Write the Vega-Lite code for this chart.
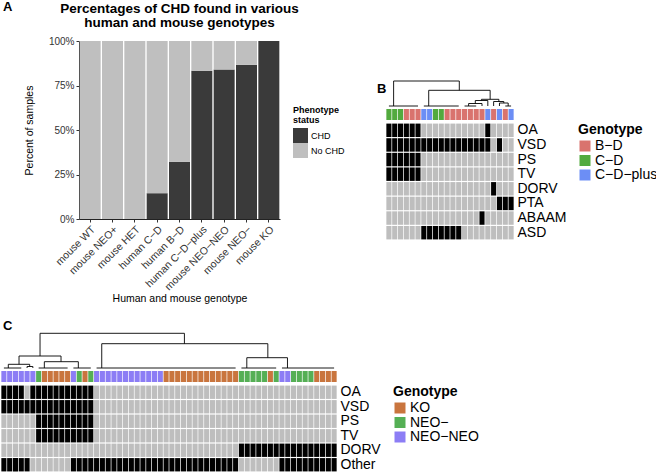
{
  "$schema": "https://vega.github.io/schema/vega-lite/v6.json",
  "padding": {"left": 1, "top": 0, "right": 0, "bottom": 0},
  "background": "white",
  "config": {
    "font": "Liberation Sans",
    "view": {"stroke": null},
    "title": {"color": "#000"},
    "axis": {"labelColor": "#333", "titleColor": "#000", "domainColor": "#222", "tickColor": "#333", "grid": false}
  },
  "spacing": 15,
  "resolve": {"scale": {"color": "independent", "x": "independent", "y": "independent"}},
  "vconcat": [
    {
      "title": {"text": "A", "anchor": "start", "fontSize": 13, "fontWeight": "bold", "offset": -12, "dx": 2},
      "spacing": 22,
      "resolve": {"scale": {"color": "independent", "x": "independent", "y": "independent"}},
      "hconcat": [
        {
          "width": 1,
          "height": 1,
          "data": {"values": [{"z": 0}]},
          "mark": {"type": "point", "size": 0, "opacity": 0},
          "encoding": {}
        },
        {
          "spacing": 32,
          "resolve": {"scale": {"color": "independent", "x": "independent", "y": "independent"}},
          "hconcat": [
            {
              "width": 201,
              "height": 178,
              "title": {"text": ["Percentages of CHD found in various", "human and mouse genotypes"], "fontSize": 13.5, "fontWeight": "bold", "anchor": "middle", "lineHeight": 14, "offset": 7},
              "data": {"values": [
                {"g": "mouse WT", "s": "CHD", "o": 0, "p": 0}, {"g": "mouse WT", "s": "No CHD", "o": 1, "p": 100},
                {"g": "mouse NEO+", "s": "CHD", "o": 0, "p": 0}, {"g": "mouse NEO+", "s": "No CHD", "o": 1, "p": 100},
                {"g": "mouse HET", "s": "CHD", "o": 0, "p": 0}, {"g": "mouse HET", "s": "No CHD", "o": 1, "p": 100},
                {"g": "human C−D", "s": "CHD", "o": 0, "p": 14.5}, {"g": "human C−D", "s": "No CHD", "o": 1, "p": 85.5},
                {"g": "human B−D", "s": "CHD", "o": 0, "p": 32.2}, {"g": "human B−D", "s": "No CHD", "o": 1, "p": 67.8},
                {"g": "human C−D−plus", "s": "CHD", "o": 0, "p": 83.3}, {"g": "human C−D−plus", "s": "No CHD", "o": 1, "p": 16.7},
                {"g": "mouse NEO−NEO", "s": "CHD", "o": 0, "p": 84}, {"g": "mouse NEO−NEO", "s": "No CHD", "o": 1, "p": 16},
                {"g": "mouse NEO−", "s": "CHD", "o": 0, "p": 86.7}, {"g": "mouse NEO−", "s": "No CHD", "o": 1, "p": 13.3},
                {"g": "mouse KO", "s": "CHD", "o": 0, "p": 100}, {"g": "mouse KO", "s": "No CHD", "o": 1, "p": 0}
              ]},
              "mark": {"type": "bar"},
              "encoding": {
                "x": {"field": "g", "type": "nominal",
                  "sort": ["mouse WT", "mouse NEO+", "mouse HET", "human C−D", "human B−D", "human C−D−plus", "mouse NEO−NEO", "mouse NEO−", "mouse KO"],
                  "scale": {"paddingInner": 0.06, "paddingOuter": 0.03},
                  "axis": {"title": "Human and mouse genotype", "labelAngle": -45, "labelFontSize": 10.5, "titleFontSize": 10.5, "titleFontWeight": "normal", "tickSize": 3, "labelPadding": 2, "titlePadding": 1}},
                "y": {"field": "p", "type": "quantitative", "stack": "zero",
                  "scale": {"domain": [0, 100], "nice": false},
                  "axis": {"title": "Percent of samples", "values": [0, 25, 50, 75, 100], "labelExpr": "datum.value + '%'", "labelFontSize": 10, "titleFontSize": 10.5, "titleFontWeight": "normal", "tickSize": 3, "labelPadding": 2, "titlePadding": 14}},
                "order": {"field": "o", "type": "quantitative"},
                "color": {"field": "s", "type": "nominal",
                  "scale": {"domain": ["CHD", "No CHD"], "range": ["#3a3a3a", "#bfbfbf"]},
                  "legend": {"title": ["Phenotype", "status"], "titleFontSize": 9, "titleFontWeight": "bold", "labelFontSize": 9, "symbolType": "square", "symbolSize": 225, "symbolStrokeWidth": 0, "rowPadding": 0, "orient": "none", "legendX": 214, "legendY": 65, "titlePadding": 3, "labelOffset": 3, "titleLineHeight": 10}}
              }
            },
            {
              "title": {"text": "B", "anchor": "start", "fontSize": 13, "fontWeight": "bold", "dx": -9, "offset": -55},
              "bounds": "flush",
              "spacing": 3,
              "resolve": {"scale": {"color": "independent", "x": "independent", "y": "independent"}},
              "vconcat": [
                {
                  "width": 128,
                  "height": 65,
                  "data": {"values": [
                    {"a": 0.5, "b": 5.5, "h": 0, "ha": 0, "hb": 0},
                    {"a": 6.5, "b": 12.5, "h": 0, "ha": 0, "hb": 0},
                    {"a": 13.5, "b": 15.5, "h": 0, "ha": 0, "hb": 0},
                    {"a": 14.2, "b": 16.5, "h": 2.5, "ha": 0, "hb": 0},
                    {"a": 20.5, "b": 21.5, "h": 0, "ha": 0, "hb": 0},
                    {"a": 19.5, "b": 21.0, "h": 3, "ha": 0, "hb": 0},
                    {"a": 18.5, "b": 20.25, "h": 4.5, "ha": 0, "hb": 3},
                    {"a": 15.35, "b": 17.5, "h": 5.5, "ha": 2.5, "hb": 0},
                    {"a": 16.4, "b": 19.4, "h": 6.7, "ha": 5.5, "hb": 4.5},
                    {"a": 7.34, "b": 17.9, "h": 15.7, "ha": 0, "hb": 6.7},
                    {"a": 1.31, "b": 12.6, "h": 25, "ha": 0, "hb": 15.7}
                  ]},
                  "encoding": {},
                  "layer": [
                    {"mark": {"type": "rule", "color": "#000", "strokeWidth": 0.9},
                     "encoding": {"x": {"field": "a", "type": "quantitative", "scale": {"domain": [0, 22], "nice": false, "zero": false}, "axis": null},
                                  "x2": {"field": "b"},
                                  "y": {"field": "h", "type": "quantitative", "scale": {"domain": [0, 65], "nice": false}, "axis": null}}},
                    {"mark": {"type": "rule", "color": "#000", "strokeWidth": 0.9},
                     "encoding": {"x": {"field": "a", "type": "quantitative"}, "y": {"field": "ha", "type": "quantitative"}, "y2": {"field": "h"}}},
                    {"mark": {"type": "rule", "color": "#000", "strokeWidth": 0.9},
                     "encoding": {"x": {"field": "b", "type": "quantitative"}, "y": {"field": "hb", "type": "quantitative"}, "y2": {"field": "h"}}}
                  ]
                },
                {
                  "width": 128,
                  "height": 11,
                  "data": {"name": "tblB"},
                  "mark": {"type": "rect"},
                  "encoding": {
                    "x": {"field": "c", "type": "ordinal", "scale": {"paddingInner": 0.12, "paddingOuter": 0.06}, "axis": null},
                    "color": {"field": "gB", "type": "nominal", "scale": {"domain": ["B−D", "C−D", "C−D−plus"], "range": ["#d9736e", "#52aa3e", "#6c8ef5"]},
                      "legend": {"title": "Genotype", "orient": "none", "legendX": 192, "legendY": 14, "titleFontSize": 14, "titleFontWeight": "bold", "labelFontSize": 14, "symbolType": "square", "symbolSize": 121, "symbolStrokeWidth": 0, "rowPadding": 0.5, "titlePadding": 2, "labelOffset": 3}}
                  }
                },
                {
                  "width": 128,
                  "height": 117,
                  "data": {"name": "tblB"},
                  "transform": [{"fold": ["OA", "VSD", "PS", "TV", "DORV", "PTA", "ABAAM", "ASD"], "as": ["ph", "v"]}],
                  "mark": {"type": "rect"},
                  "encoding": {
                    "x": {"field": "c", "type": "ordinal", "scale": {"paddingInner": 0.12, "paddingOuter": 0.06}, "axis": null},
                    "y": {"field": "ph", "type": "nominal", "sort": ["OA", "VSD", "PS", "TV", "DORV", "PTA", "ABAAM", "ASD"], "scale": {"paddingInner": 0.08, "paddingOuter": 0.04},
                      "axis": {"orient": "right", "title": null, "domain": false, "ticks": false, "labelFontSize": 14, "labelColor": "#000", "labelPadding": 3}},
                    "color": {"field": "v", "type": "nominal", "scale": {"domain": [0, 1], "range": ["#bebebe", "#000000"]}, "legend": null}
                  }
                }
              ]
            }
          ]
        }
      ]
    },
    {
      "title": {"text": "C", "anchor": "start", "fontSize": 13, "fontWeight": "bold", "dx": 2, "offset": 0},
      "bounds": "flush",
      "spacing": 3,
      "resolve": {"scale": {"color": "independent", "x": "independent", "y": "independent"}},
      "vconcat": [
        {
          "width": 336,
          "height": 35,
          "data": {"values": [
            {"a": 0.5, "b": 3.5, "h": 0, "ha": 0, "hb": 0},
            {"a": 4.5, "b": 5.5, "h": 1.5, "ha": 0, "hb": 0},
            {"a": 1.26, "b": 4.95, "h": 3.7, "ha": 0, "hb": 1.5},
            {"a": 6.5, "b": 11.5, "h": 0, "ha": 0, "hb": 0},
            {"a": 12.5, "b": 15.5, "h": 0, "ha": 0, "hb": 0},
            {"a": 7.48, "b": 13.35, "h": 6.3, "ha": 0, "hb": 0},
            {"a": 3.11, "b": 10.36, "h": 12, "ha": 3.7, "hb": 6.3},
            {"a": 16.5, "b": 40.5, "h": 0, "ha": 0, "hb": 0},
            {"a": 41.5, "b": 47.5, "h": 0, "ha": 0, "hb": 0},
            {"a": 48.5, "b": 57.5, "h": 0, "ha": 0, "hb": 0},
            {"a": 42.43, "b": 49.45, "h": 10.3, "ha": 0, "hb": 0},
            {"a": 17.39, "b": 46.06, "h": 24.3, "ha": 0, "hb": 10.3},
            {"a": 6.74, "b": 31.66, "h": 34.7, "ha": 12, "hb": 24.3}
          ]},
          "encoding": {},
          "layer": [
            {"mark": {"type": "rule", "color": "#000", "strokeWidth": 0.9},
             "encoding": {"x": {"field": "a", "type": "quantitative", "scale": {"domain": [0, 58], "nice": false, "zero": false}, "axis": null},
                          "x2": {"field": "b"},
                          "y": {"field": "h", "type": "quantitative", "scale": {"domain": [0, 35], "nice": false}, "axis": null}}},
            {"mark": {"type": "rule", "color": "#000", "strokeWidth": 0.9},
             "encoding": {"x": {"field": "a", "type": "quantitative"}, "y": {"field": "ha", "type": "quantitative"}, "y2": {"field": "h"}}},
            {"mark": {"type": "rule", "color": "#000", "strokeWidth": 0.9},
             "encoding": {"x": {"field": "b", "type": "quantitative"}, "y": {"field": "hb", "type": "quantitative"}, "y2": {"field": "h"}}}
          ]
        },
        {
          "width": 336,
          "height": 11,
          "data": {"name": "tblC"},
          "mark": {"type": "rect"},
          "encoding": {
            "x": {"field": "c", "type": "ordinal", "scale": {"paddingInner": 0.12, "paddingOuter": 0.06}, "axis": null},
            "color": {"field": "gC", "type": "nominal", "scale": {"domain": ["KO", "NEO−", "NEO−NEO"], "range": ["#c9753e", "#55af55", "#8c7df5"]},
              "legend": {"title": "Genotype", "orient": "none", "legendX": 392, "legendY": 14, "titleFontSize": 14, "titleFontWeight": "bold", "labelFontSize": 14, "symbolType": "square", "symbolSize": 121, "symbolStrokeWidth": 0, "rowPadding": 0.5, "titlePadding": 2, "labelOffset": 3}}
          }
        },
        {
          "width": 336,
          "height": 87,
          "data": {"name": "tblC"},
          "transform": [{"fold": ["OA", "VSD", "PS", "TV", "DORV", "Other"], "as": ["ph", "v"]}],
          "mark": {"type": "rect"},
          "encoding": {
            "x": {"field": "c", "type": "ordinal", "scale": {"paddingInner": 0.12, "paddingOuter": 0.06}, "axis": null},
            "y": {"field": "ph", "type": "nominal", "sort": ["OA", "VSD", "PS", "TV", "DORV", "Other"], "scale": {"paddingInner": 0.08, "paddingOuter": 0.04},
              "axis": {"orient": "right", "title": null, "domain": false, "ticks": false, "labelFontSize": 14, "labelColor": "#000", "labelPadding": 3}},
            "color": {"field": "v", "type": "nominal", "scale": {"domain": [0, 1], "range": ["#bebebe", "#000000"]}, "legend": null}
          }
        }
      ]
    }
  ],
  "datasets": {
    "tblB": [
      {"c": 0, "gB": "C−D", "OA": 1, "VSD": 1, "PS": 1, "TV": 1, "DORV": 0, "PTA": 0, "ABAAM": 0, "ASD": 0},
      {"c": 1, "gB": "C−D", "OA": 1, "VSD": 1, "PS": 1, "TV": 1, "DORV": 0, "PTA": 0, "ABAAM": 0, "ASD": 0},
      {"c": 2, "gB": "C−D", "OA": 1, "VSD": 1, "PS": 1, "TV": 1, "DORV": 0, "PTA": 0, "ABAAM": 0, "ASD": 0},
      {"c": 3, "gB": "B−D", "OA": 1, "VSD": 1, "PS": 1, "TV": 1, "DORV": 0, "PTA": 0, "ABAAM": 0, "ASD": 0},
      {"c": 4, "gB": "B−D", "OA": 1, "VSD": 1, "PS": 1, "TV": 1, "DORV": 0, "PTA": 0, "ABAAM": 0, "ASD": 0},
      {"c": 5, "gB": "B−D", "OA": 1, "VSD": 1, "PS": 1, "TV": 1, "DORV": 0, "PTA": 0, "ABAAM": 0, "ASD": 0},
      {"c": 6, "gB": "C−D−plus", "OA": 0, "VSD": 1, "PS": 0, "TV": 0, "DORV": 0, "PTA": 0, "ABAAM": 0, "ASD": 1},
      {"c": 7, "gB": "C−D−plus", "OA": 0, "VSD": 1, "PS": 0, "TV": 0, "DORV": 0, "PTA": 0, "ABAAM": 0, "ASD": 1},
      {"c": 8, "gB": "C−D", "OA": 0, "VSD": 1, "PS": 0, "TV": 0, "DORV": 0, "PTA": 0, "ABAAM": 0, "ASD": 1},
      {"c": 9, "gB": "C−D", "OA": 0, "VSD": 1, "PS": 0, "TV": 0, "DORV": 0, "PTA": 0, "ABAAM": 0, "ASD": 1},
      {"c": 10, "gB": "B−D", "OA": 0, "VSD": 1, "PS": 0, "TV": 0, "DORV": 0, "PTA": 0, "ABAAM": 0, "ASD": 1},
      {"c": 11, "gB": "B−D", "OA": 0, "VSD": 1, "PS": 0, "TV": 0, "DORV": 0, "PTA": 0, "ABAAM": 0, "ASD": 1},
      {"c": 12, "gB": "B−D", "OA": 0, "VSD": 1, "PS": 0, "TV": 0, "DORV": 0, "PTA": 0, "ABAAM": 0, "ASD": 1},
      {"c": 13, "gB": "B−D", "OA": 0, "VSD": 1, "PS": 0, "TV": 0, "DORV": 0, "PTA": 0, "ABAAM": 0, "ASD": 0},
      {"c": 14, "gB": "B−D", "OA": 0, "VSD": 1, "PS": 0, "TV": 0, "DORV": 0, "PTA": 0, "ABAAM": 0, "ASD": 0},
      {"c": 15, "gB": "B−D", "OA": 0, "VSD": 1, "PS": 0, "TV": 0, "DORV": 0, "PTA": 0, "ABAAM": 0, "ASD": 0},
      {"c": 16, "gB": "B−D", "OA": 0, "VSD": 1, "PS": 0, "TV": 0, "DORV": 0, "PTA": 0, "ABAAM": 1, "ASD": 0},
      {"c": 17, "gB": "C−D−plus", "OA": 1, "VSD": 1, "PS": 0, "TV": 0, "DORV": 0, "PTA": 0, "ABAAM": 0, "ASD": 0},
      {"c": 18, "gB": "B−D", "OA": 0, "VSD": 0, "PS": 0, "TV": 0, "DORV": 1, "PTA": 0, "ABAAM": 0, "ASD": 0},
      {"c": 19, "gB": "C−D−plus", "OA": 0, "VSD": 1, "PS": 0, "TV": 0, "DORV": 0, "PTA": 1, "ABAAM": 0, "ASD": 0},
      {"c": 20, "gB": "B−D", "OA": 0, "VSD": 0, "PS": 0, "TV": 0, "DORV": 0, "PTA": 1, "ABAAM": 0, "ASD": 0},
      {"c": 21, "gB": "C−D−plus", "OA": 0, "VSD": 0, "PS": 0, "TV": 0, "DORV": 0, "PTA": 1, "ABAAM": 0, "ASD": 0}
    ],
    "tblC": [
      {"c": 0, "gC": "NEO−NEO", "OA": 1, "VSD": 1, "PS": 0, "TV": 0, "DORV": 0, "Other": 1},
      {"c": 1, "gC": "NEO−NEO", "OA": 1, "VSD": 1, "PS": 0, "TV": 0, "DORV": 0, "Other": 1},
      {"c": 2, "gC": "NEO−NEO", "OA": 1, "VSD": 1, "PS": 0, "TV": 0, "DORV": 0, "Other": 1},
      {"c": 3, "gC": "NEO−NEO", "OA": 1, "VSD": 1, "PS": 0, "TV": 0, "DORV": 0, "Other": 1},
      {"c": 4, "gC": "NEO−NEO", "OA": 0, "VSD": 1, "PS": 0, "TV": 0, "DORV": 0, "Other": 1},
      {"c": 5, "gC": "NEO−NEO", "OA": 1, "VSD": 1, "PS": 0, "TV": 0, "DORV": 0, "Other": 0},
      {"c": 6, "gC": "NEO−", "OA": 1, "VSD": 1, "PS": 1, "TV": 1, "DORV": 0, "Other": 0},
      {"c": 7, "gC": "KO", "OA": 1, "VSD": 1, "PS": 1, "TV": 1, "DORV": 0, "Other": 0},
      {"c": 8, "gC": "KO", "OA": 1, "VSD": 1, "PS": 1, "TV": 1, "DORV": 0, "Other": 0},
      {"c": 9, "gC": "KO", "OA": 1, "VSD": 1, "PS": 1, "TV": 1, "DORV": 0, "Other": 0},
      {"c": 10, "gC": "KO", "OA": 1, "VSD": 1, "PS": 1, "TV": 1, "DORV": 0, "Other": 0},
      {"c": 11, "gC": "KO", "OA": 1, "VSD": 1, "PS": 1, "TV": 1, "DORV": 0, "Other": 0},
      {"c": 12, "gC": "NEO−NEO", "OA": 1, "VSD": 1, "PS": 1, "TV": 1, "DORV": 0, "Other": 1},
      {"c": 13, "gC": "NEO−", "OA": 1, "VSD": 1, "PS": 1, "TV": 1, "DORV": 0, "Other": 1},
      {"c": 14, "gC": "KO", "OA": 1, "VSD": 1, "PS": 1, "TV": 1, "DORV": 0, "Other": 1},
      {"c": 15, "gC": "NEO−", "OA": 1, "VSD": 1, "PS": 1, "TV": 1, "DORV": 0, "Other": 1},
      {"c": 16, "gC": "NEO−NEO", "OA": 0, "VSD": 0, "PS": 0, "TV": 0, "DORV": 0, "Other": 1},
      {"c": 17, "gC": "NEO−NEO", "OA": 0, "VSD": 0, "PS": 0, "TV": 0, "DORV": 0, "Other": 1},
      {"c": 18, "gC": "NEO−NEO", "OA": 0, "VSD": 0, "PS": 0, "TV": 0, "DORV": 0, "Other": 1},
      {"c": 19, "gC": "NEO−NEO", "OA": 0, "VSD": 0, "PS": 0, "TV": 0, "DORV": 0, "Other": 1},
      {"c": 20, "gC": "NEO−NEO", "OA": 0, "VSD": 0, "PS": 0, "TV": 0, "DORV": 0, "Other": 1},
      {"c": 21, "gC": "NEO−NEO", "OA": 0, "VSD": 0, "PS": 0, "TV": 0, "DORV": 0, "Other": 1},
      {"c": 22, "gC": "NEO−NEO", "OA": 0, "VSD": 0, "PS": 0, "TV": 0, "DORV": 0, "Other": 1},
      {"c": 23, "gC": "NEO−NEO", "OA": 0, "VSD": 0, "PS": 0, "TV": 0, "DORV": 0, "Other": 1},
      {"c": 24, "gC": "NEO−NEO", "OA": 0, "VSD": 0, "PS": 0, "TV": 0, "DORV": 0, "Other": 1},
      {"c": 25, "gC": "NEO−NEO", "OA": 0, "VSD": 0, "PS": 0, "TV": 0, "DORV": 0, "Other": 1},
      {"c": 26, "gC": "NEO−NEO", "OA": 0, "VSD": 0, "PS": 0, "TV": 0, "DORV": 0, "Other": 1},
      {"c": 27, "gC": "NEO−NEO", "OA": 0, "VSD": 0, "PS": 0, "TV": 0, "DORV": 0, "Other": 1},
      {"c": 28, "gC": "KO", "OA": 0, "VSD": 0, "PS": 0, "TV": 0, "DORV": 0, "Other": 1},
      {"c": 29, "gC": "KO", "OA": 0, "VSD": 0, "PS": 0, "TV": 0, "DORV": 0, "Other": 1},
      {"c": 30, "gC": "KO", "OA": 0, "VSD": 0, "PS": 0, "TV": 0, "DORV": 0, "Other": 1},
      {"c": 31, "gC": "KO", "OA": 0, "VSD": 0, "PS": 0, "TV": 0, "DORV": 0, "Other": 1},
      {"c": 32, "gC": "KO", "OA": 0, "VSD": 0, "PS": 0, "TV": 0, "DORV": 0, "Other": 1},
      {"c": 33, "gC": "KO", "OA": 0, "VSD": 0, "PS": 0, "TV": 0, "DORV": 0, "Other": 1},
      {"c": 34, "gC": "KO", "OA": 0, "VSD": 0, "PS": 0, "TV": 0, "DORV": 0, "Other": 1},
      {"c": 35, "gC": "KO", "OA": 0, "VSD": 0, "PS": 0, "TV": 0, "DORV": 0, "Other": 1},
      {"c": 36, "gC": "KO", "OA": 0, "VSD": 0, "PS": 0, "TV": 0, "DORV": 0, "Other": 1},
      {"c": 37, "gC": "KO", "OA": 0, "VSD": 0, "PS": 0, "TV": 0, "DORV": 0, "Other": 1},
      {"c": 38, "gC": "KO", "OA": 0, "VSD": 0, "PS": 0, "TV": 0, "DORV": 0, "Other": 1},
      {"c": 39, "gC": "KO", "OA": 0, "VSD": 0, "PS": 0, "TV": 0, "DORV": 0, "Other": 1},
      {"c": 40, "gC": "KO", "OA": 0, "VSD": 0, "PS": 0, "TV": 0, "DORV": 0, "Other": 1},
      {"c": 41, "gC": "NEO−", "OA": 0, "VSD": 0, "PS": 0, "TV": 0, "DORV": 1, "Other": 0},
      {"c": 42, "gC": "NEO−", "OA": 0, "VSD": 0, "PS": 0, "TV": 0, "DORV": 1, "Other": 0},
      {"c": 43, "gC": "NEO−", "OA": 0, "VSD": 0, "PS": 0, "TV": 0, "DORV": 1, "Other": 0},
      {"c": 44, "gC": "NEO−", "OA": 0, "VSD": 0, "PS": 0, "TV": 0, "DORV": 1, "Other": 0},
      {"c": 45, "gC": "NEO−", "OA": 0, "VSD": 0, "PS": 0, "TV": 0, "DORV": 1, "Other": 0},
      {"c": 46, "gC": "KO", "OA": 0, "VSD": 0, "PS": 0, "TV": 0, "DORV": 1, "Other": 0},
      {"c": 47, "gC": "NEO−", "OA": 0, "VSD": 0, "PS": 0, "TV": 0, "DORV": 1, "Other": 0},
      {"c": 48, "gC": "NEO−NEO", "OA": 0, "VSD": 0, "PS": 0, "TV": 0, "DORV": 1, "Other": 1},
      {"c": 49, "gC": "NEO−NEO", "OA": 0, "VSD": 0, "PS": 0, "TV": 0, "DORV": 1, "Other": 1},
      {"c": 50, "gC": "NEO−", "OA": 0, "VSD": 0, "PS": 0, "TV": 0, "DORV": 1, "Other": 1},
      {"c": 51, "gC": "NEO−", "OA": 0, "VSD": 0, "PS": 0, "TV": 0, "DORV": 1, "Other": 1},
      {"c": 52, "gC": "NEO−", "OA": 0, "VSD": 0, "PS": 0, "TV": 0, "DORV": 1, "Other": 1},
      {"c": 53, "gC": "NEO−", "OA": 0, "VSD": 0, "PS": 0, "TV": 0, "DORV": 1, "Other": 1},
      {"c": 54, "gC": "KO", "OA": 0, "VSD": 0, "PS": 0, "TV": 0, "DORV": 1, "Other": 1},
      {"c": 55, "gC": "KO", "OA": 0, "VSD": 0, "PS": 0, "TV": 0, "DORV": 1, "Other": 1},
      {"c": 56, "gC": "KO", "OA": 0, "VSD": 0, "PS": 0, "TV": 0, "DORV": 1, "Other": 1},
      {"c": 57, "gC": "KO", "OA": 0, "VSD": 0, "PS": 0, "TV": 0, "DORV": 1, "Other": 1}
    ]
  }
}
